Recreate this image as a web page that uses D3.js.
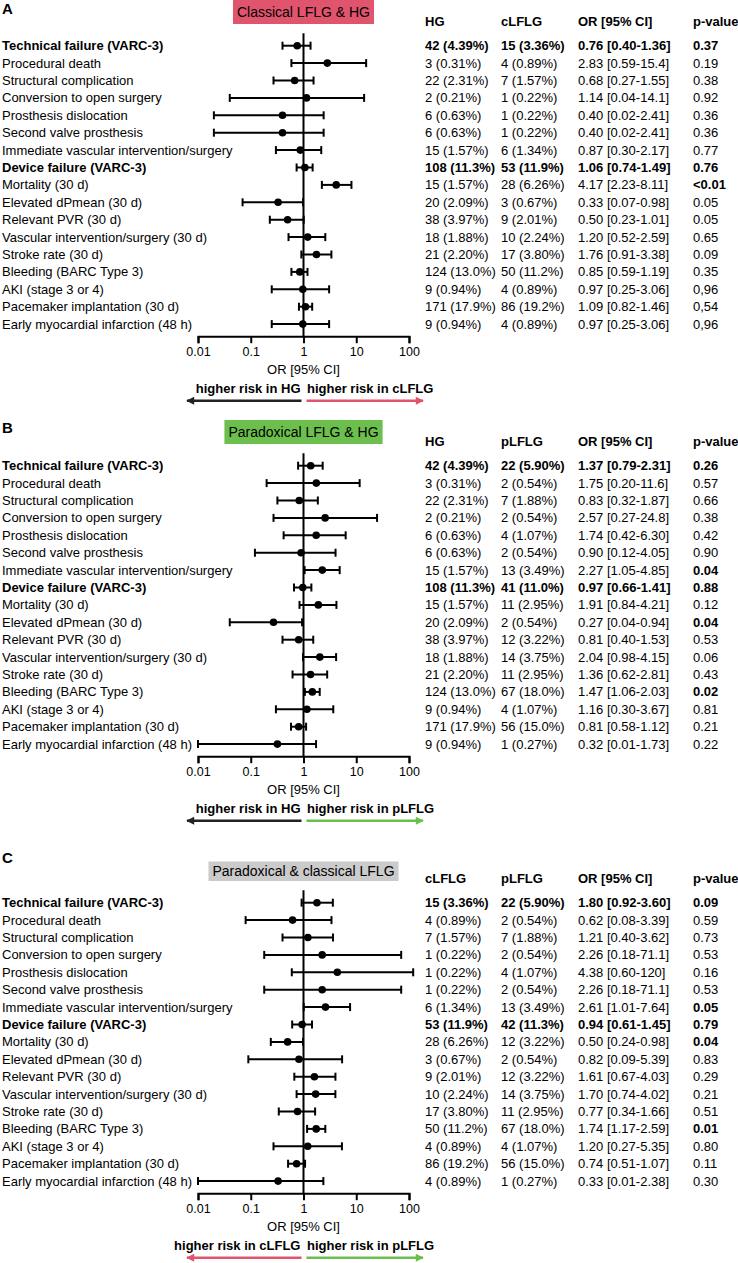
<!DOCTYPE html>
<html>
<head>
<meta charset="utf-8">
<script src="https://cdn.jsdelivr.net/npm/d3@7"></script>
<style>
  body { margin: 0; background: #fff; }
  svg { display: block; font-family: "Liberation Sans", Arial, sans-serif; }
  .axis path, .axis line { stroke: #000; stroke-width: 2; }
  .axis text { font-size: 12.5px; fill: #000; }
</style>
</head>
<body>
<svg width="738" height="1263"></svg>
<script>
// outcomes, one per row (same in every panel)
var outcomes = [
  "Technical failure (VARC-3)", "Procedural death", "Structural complication",
  "Conversion to open surgery", "Prosthesis dislocation", "Second valve prosthesis",
  "Immediate vascular intervention/surgery", "Device failure (VARC-3)", "Mortality (30 d)",
  "Elevated dPmean (30 d)", "Relevant PVR (30 d)", "Vascular intervention/surgery (30 d)",
  "Stroke rate (30 d)", "Bleeding (BARC Type 3)", "AKI (stage 3 or 4)",
  "Pacemaker implantation (30 d)", "Early myocardial infarction (48 h)"
];
var boldRows = [0, 7];
var tickValues = [0.01, 0.1, 1, 10, 100];
var tickLabels = ["0.01", "0.1", "1", "10", "100"];

// A: HG vs cLFLG
var aGroups = ["HG", "cLFLG"];
var aN1 = ["42 (4.39%)", "3 (0.31%)", "22 (2.31%)", "2 (0.21%)", "6 (0.63%)", "6 (0.63%)", "15 (1.57%)", "108 (11.3%)", "15 (1.57%)", "20 (2.09%)", "38 (3.97%)", "18 (1.88%)", "21 (2.20%)", "124 (13.0%)", "9 (0.94%)", "171 (17.9%)", "9 (0.94%)"];
var aN2 = ["15 (3.36%)", "4 (0.89%)", "7 (1.57%)", "1 (0.22%)", "1 (0.22%)", "1 (0.22%)", "6 (1.34%)", "53 (11.9%)", "28 (6.26%)", "3 (0.67%)", "9 (2.01%)", "10 (2.24%)", "17 (3.80%)", "50 (11.2%)", "4 (0.89%)", "86 (19.2%)", "4 (0.89%)"];
var aOR = [0.76, 2.83, 0.68, 1.14, 0.40, 0.40, 0.87, 1.06, 4.17, 0.33, 0.50, 1.20, 1.76, 0.85, 0.97, 1.09, 0.97];
var aLo = [0.40, 0.59, 0.27, 0.04, 0.02, 0.02, 0.30, 0.74, 2.23, 0.07, 0.23, 0.52, 0.91, 0.59, 0.25, 0.82, 0.25];
var aHi = [1.36, 15.4, 1.55, 14.1, 2.41, 2.41, 2.17, 1.49, 8.11, 0.98, 1.01, 2.59, 3.38, 1.19, 3.06, 1.46, 3.06];
var aP = ["0.37", "0.19", "0.38", "0.92", "0.36", "0.36", "0.77", "0.76", "<0.01", "0.05", "0.05", "0.65", "0.09", "0.35", "0,96", "0,54", "0,96"];
var aPBold = [0, 7, 8];

// B: HG vs pLFLG
var bGroups = ["HG", "pLFLG"];
var bN1 = aN1;
var bN2 = ["22 (5.90%)", "2 (0.54%)", "7 (1.88%)", "2 (0.54%)", "4 (1.07%)", "2 (0.54%)", "13 (3.49%)", "41 (11.0%)", "11 (2.95%)", "2 (0.54%)", "12 (3.22%)", "14 (3.75%)", "11 (2.95%)", "67 (18.0%)", "4 (1.07%)", "56 (15.0%)", "1 (0.27%)"];
var bOR = [1.37, 1.75, 0.83, 2.57, 1.74, 0.90, 2.27, 0.97, 1.91, 0.27, 0.81, 2.04, 1.36, 1.47, 1.16, 0.81, 0.32];
var bLo = [0.79, 0.20, 0.32, 0.27, 0.42, 0.12, 1.05, 0.66, 0.84, 0.04, 0.40, 0.98, 0.62, 1.06, 0.30, 0.58, 0.01];
var bHi = [2.31, 11.6, 1.87, 24.8, 6.30, 4.05, 4.85, 1.41, 4.21, 0.94, 1.53, 4.15, 2.81, 2.03, 3.67, 1.12, 1.73];
var bP = ["0.26", "0.57", "0.66", "0.38", "0.42", "0.90", "0.04", "0.88", "0.12", "0.04", "0.53", "0.06", "0.43", "0.02", "0.81", "0.21", "0.22"];
var bPBold = [0, 6, 7, 9, 13];

// C: cLFLG vs pLFLG
var cGroups = ["cLFLG", "pLFLG"];
var cN1 = aN2;
var cN2 = ["22 (5.90%)", "2 (0.54%)", "7 (1.88%)", "2 (0.54%)", "4 (1.07%)", "2 (0.54%)", "13 (3.49%)", "42 (11.3%)", "12 (3.22%)", "2 (0.54%)", "12 (3.22%)", "14 (3.75%)", "11 (2.95%)", "67 (18.0%)", "4 (1.07%)", "56 (15.0%)", "1 (0.27%)"];
var cOR = [1.80, 0.62, 1.21, 2.26, 4.38, 2.26, 2.61, 0.94, 0.50, 0.82, 1.61, 1.70, 0.77, 1.74, 1.20, 0.74, 0.33];
var cLo = [0.92, 0.08, 0.40, 0.18, 0.60, 0.18, 1.01, 0.61, 0.24, 0.09, 0.67, 0.74, 0.34, 1.17, 0.27, 0.51, 0.01];
var cHi = [3.60, 3.39, 3.62, 71.1, 120, 71.1, 7.64, 1.45, 0.98, 5.39, 4.03, 4.02, 1.66, 2.59, 5.35, 1.07, 2.38];
var cP = ["0.09", "0.59", "0.73", "0.53", "0.16", "0.53", "0.05", "0.79", "0.04", "0.83", "0.29", "0.21", "0.51", "0.01", "0.80", "0.11", "0.30"];
var cPBold = [0, 6, 7, 8, 13];

var pink = "#e0546e", green = "#6cbf4c", dark = "#222";

var panels = [
  {key: "A", y0: 45.7, labelY: 8.3, boxTop: 0, boxH: 24, title: "Classical LFLG & HG", boxColor: pink,
   groups: aGroups, n1: aN1, n2: aN2, or: aOR, lo: aLo, hi: aHi, p: aP, pBold: aPBold, arrowColors: [dark, pink]},
  {key: "B", y0: 465.7, labelY: 428, boxTop: 420, boxH: 24, title: "Paradoxical LFLG & HG", boxColor: green,
   groups: bGroups, n1: bN1, n2: bN2, or: bOR, lo: bLo, hi: bHi, p: bP, pBold: bPBold, arrowColors: [dark, green]},
  {key: "C", y0: 902.7, labelY: 858, boxTop: 861.5, boxH: 19.5, title: "Paradoxical & classical LFLG", boxColor: "#cbcbcb",
   groups: cGroups, n1: cN1, n2: cN2, or: cOR, lo: cLo, hi: cHi, p: cP, pBold: cPBold, arrowColors: [pink, green]}
];

var svg = d3.select("svg");
var rowH = 17.4;
var colX = [425, 501, 578, 693];
var xScale = d3.scaleLog().domain([0.01, 100]).range([198, 409]);

function fmt(v) {
  if (v >= 100) return String(v);
  if (v >= 10) return v.toFixed(1);
  return v.toFixed(2);
}

// arrow heads
var defs = svg.append("defs");
[dark, pink, green].forEach(function(col, i) {
  defs.append("marker")
    .attr("id", "arrow" + i)
    .attr("viewBox", "0 0 10 10")
    .attr("refX", 9).attr("refY", 5)
    .attr("markerUnits", "userSpaceOnUse")
    .attr("markerWidth", 10).attr("markerHeight", 8)
    .attr("orient", "auto")
    .append("path")
    .attr("d", "M0,0L10,5L0,10z")
    .attr("fill", col);
});
function markerFor(col) { return "url(#arrow" + [dark, pink, green].indexOf(col) + ")"; }

function drawPanel(P) {
  var g = svg.append("g");
  var nRows = outcomes.length;
  var yRow = function(i) { return P.y0 + i * rowH; };
  var axisY = P.y0 + 290.5;

  g.append("text")
    .attr("x", 2).attr("y", P.labelY).attr("dy", "0.35em")
    .attr("font-size", 15).attr("font-weight", "bold")
    .text(P.key);

  // title box
  var title = g.append("text")
    .attr("x", xScale(1)).attr("y", P.boxTop + P.boxH / 2).attr("dy", "0.35em")
    .attr("text-anchor", "middle").attr("font-size", 14)
    .text(P.title);
  var tw = title.node().getComputedTextLength();
  g.insert("rect", "text:last-of-type")
    .attr("x", xScale(1) - tw / 2 - 4).attr("y", P.boxTop)
    .attr("width", tw + 8).attr("height", P.boxH)
    .attr("fill", P.boxColor);
  title.raise();

  // column headers
  var headers = [P.groups[0], P.groups[1], "OR [95% CI]", "p-value"];
  g.selectAll(".hdr").data(headers).enter().append("text")
    .attr("x", function(d, i) { return colX[i]; })
    .attr("y", P.y0 - 24.5).attr("dy", "0.35em")
    .attr("font-size", 13).attr("font-weight", "bold")
    .text(function(d) { return d; });

  // outcome labels
  g.selectAll(".lbl").data(outcomes).enter().append("text")
    .attr("x", 2)
    .attr("y", function(d, i) { return yRow(i); }).attr("dy", "0.35em")
    .attr("font-size", 13)
    .attr("font-weight", function(d, i) { return boldRows.indexOf(i) >= 0 ? "bold" : "normal"; })
    .text(function(d) { return d; });

  // table columns
  var rows = d3.range(nRows).map(function(i) {
    return [P.n1[i], P.n2[i], fmt(P.or[i]) + " [" + fmt(P.lo[i]) + "-" + fmt(P.hi[i]) + "]", P.p[i]];
  });
  rows.forEach(function(cells, i) {
    g.selectAll(".cell" + i).data(cells).enter().append("text")
      .attr("x", function(d, j) { return colX[j]; })
      .attr("y", yRow(i)).attr("dy", "0.35em")
      .attr("font-size", 13)
      .attr("font-weight", function(d, j) {
        var b = boldRows.indexOf(i) >= 0 || (j == 3 && P.pBold.indexOf(i) >= 0);
        return b ? "bold" : "normal";
      })
      .text(function(d) { return d; });
  });

  // reference line at OR = 1
  g.append("line")
    .attr("x1", xScale(1)).attr("x2", xScale(1))
    .attr("y1", P.y0 - 12.5).attr("y2", axisY)
    .attr("stroke", "#000").attr("stroke-width", 2);

  // error bars
  var bars = g.selectAll(".bar").data(d3.range(nRows)).enter().append("g");
  bars.append("line")
    .attr("x1", function(i) { return xScale(P.lo[i]); })
    .attr("x2", function(i) { return xScale(P.hi[i]); })
    .attr("y1", function(i) { return yRow(i); })
    .attr("y2", function(i) { return yRow(i); })
    .attr("stroke", "#000").attr("stroke-width", 2);
  ["lo", "hi"].forEach(function(k) {
    bars.append("line")
      .attr("x1", function(i) { return xScale(P[k][i]); })
      .attr("x2", function(i) { return xScale(P[k][i]); })
      .attr("y1", function(i) { return yRow(i) - 4; })
      .attr("y2", function(i) { return yRow(i) + 4; })
      .attr("stroke", "#000").attr("stroke-width", 2);
  });
  bars.append("circle")
    .attr("cx", function(i) { return xScale(P.or[i]); })
    .attr("cy", function(i) { return yRow(i); })
    .attr("r", 3.8)
    .attr("fill", "#000");

  // x axis
  g.append("g")
    .attr("class", "axis")
    .attr("transform", "translate(0," + axisY + ")")
    .call(d3.axisBottom(xScale)
      .tickValues(tickValues)
      .tickFormat(function(d, i) { return tickLabels[i]; })
      .tickSize(7).tickSizeOuter(7).tickPadding(4))
    .call(function(a) { a.selectAll("text").attr("font-family", null); });

  g.append("text")
    .attr("x", xScale(1)).attr("y", axisY + 33).attr("dy", "0.35em")
    .attr("text-anchor", "middle").attr("font-size", 13)
    .text("OR [95% CI]");

  // direction labels and arrows
  g.append("text")
    .attr("x", xScale(1) - 3).attr("y", axisY + 52.5).attr("dy", "0.35em")
    .attr("text-anchor", "end").attr("font-size", 13).attr("font-weight", "bold")
    .text("higher risk in " + P.groups[0]);
  g.append("text")
    .attr("x", xScale(1) + 3.5).attr("y", axisY + 52.5).attr("dy", "0.35em")
    .attr("font-size", 13).attr("font-weight", "bold")
    .text("higher risk in " + P.groups[1]);

  var arrowY = axisY + 64.5;
  g.append("line")
    .attr("x1", xScale(1) - 2).attr("x2", 187)
    .attr("y1", arrowY).attr("y2", arrowY)
    .attr("stroke", P.arrowColors[0]).attr("stroke-width", 2.5)
    .attr("marker-end", markerFor(P.arrowColors[0]));
  g.append("line")
    .attr("x1", xScale(1) + 3).attr("x2", 423)
    .attr("y1", arrowY).attr("y2", arrowY)
    .attr("stroke", P.arrowColors[1]).attr("stroke-width", 2.5)
    .attr("marker-end", markerFor(P.arrowColors[1]));
}

panels.forEach(drawPanel);
</script>
</body>
</html>
